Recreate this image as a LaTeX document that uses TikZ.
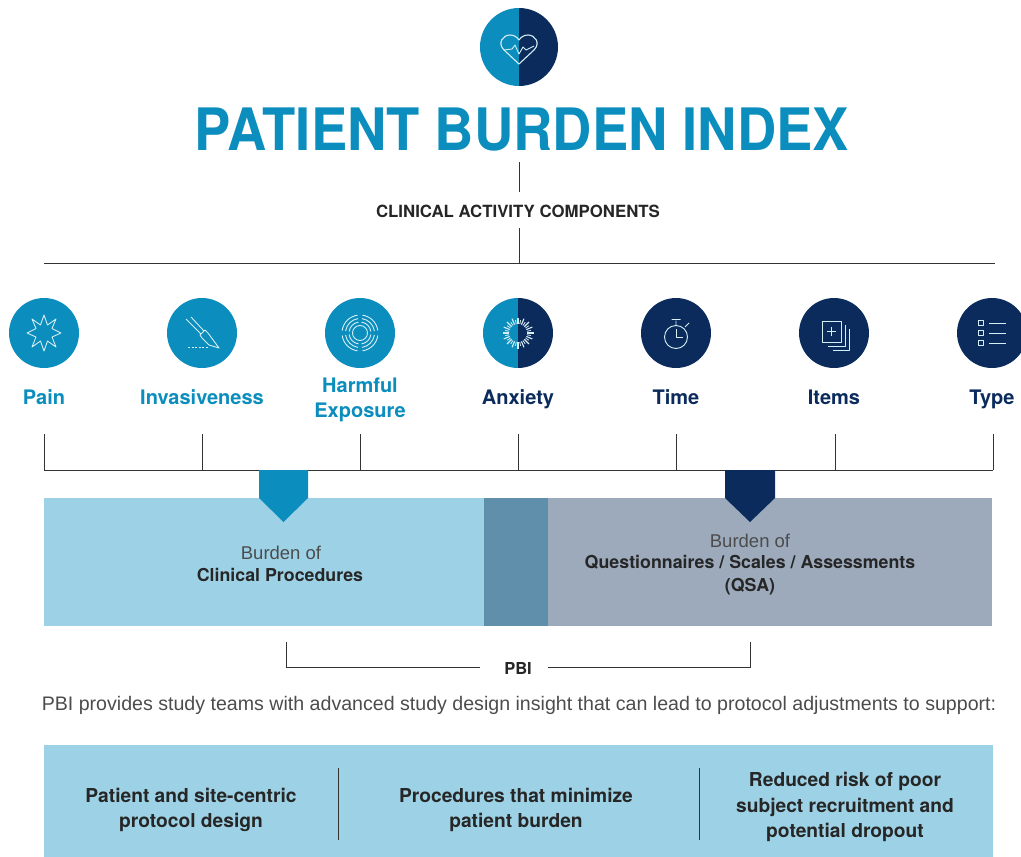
\documentclass[tikz,border=0pt]{standalone}
\usepackage{fontspec}
\setmainfont{TeX Gyre Heros}
\newfontfamily\titlefont[FakeStretch=0.93]{TeX Gyre Heros}
\newfontfamily\lightfont{Liberation Sans}
\usetikzlibrary{calc}
\definecolor{cyanB}{HTML}{0B8DBD}
\definecolor{navyB}{HTML}{0A2B5C}
\definecolor{lightB}{HTML}{9DD2E6}
\definecolor{midB}{HTML}{5F8FAB}
\definecolor{greyB}{HTML}{9CAABC}
\definecolor{lineB}{HTML}{333333}
\definecolor{iconB}{HTML}{D6EEF6}
\tikzset{
 rule/.style={draw=lineB,line width=0.8pt},
 disc/.style={circle,minimum size=70pt,inner sep=0pt,outer sep=0pt},
 lab/.style={font=\fontsize{20}{25}\selectfont\bfseries,align=center,inner sep=0pt,anchor=base},
 body/.style={font=\lightfont\fontsize{18.5}{22}\selectfont,text=black!70,align=center,inner sep=0pt},
 bodyb/.style={font=\fontsize{19.2}{25.5}\selectfont\bfseries,text=black!85,align=center,inner sep=0pt},
 barb/.style={font=\fontsize{17.8}{23}\selectfont\bfseries,text=black!85,align=center,inner sep=0pt},
 glyph/.style={draw=iconB,line width=0.9pt,line join=round},
}
\begin{document}
\begin{tikzpicture}[x=1pt,y=-1pt]
\useasboundingbox (0,0) rectangle (1021,857);
% top
\fill[cyanB] (519,8) arc[start angle=90,end angle=270,radius=39pt] -- cycle;
\fill[navyB] (519,8) arc[start angle=90,end angle=-90,radius=39pt] -- cycle;
\node[circle,minimum size=78pt,inner sep=0pt] (logo) at (519,47) {};
\draw[glyph,line width=1.1pt] (519,64) -- (504,50) .. controls (497,43) and (503,35) .. (510,35) .. controls (514,35) and (517,37) .. (519,40) .. controls (521,37) and (524,35) .. (528,35) .. controls (535,35) and (541,43) .. (534,50) -- cycle;
\draw[glyph] (504,50) -- (512,49) -- (515,45) -- (519,54) -- (523,47) -- (526,50) -- (534,46);
\node[font=\titlefont\fontsize{58.5}{60}\selectfont\bfseries,text=cyanB,inner sep=0pt] (title) at (522,129.5) {PATIENT BURDEN INDEX};
\node[font=\fontsize{16.8}{18}\selectfont\bfseries,text=black!85,inner sep=0pt] (cac) at (518,211) {CLINICAL ACTIVITY COMPONENTS};
\coordinate (t1) at (519,162);
\coordinate (t2) at (519,192);
\coordinate (t3) at (519,228);
\coordinate (t4) at (519,263);
\coordinate (hl) at (44,263);
\coordinate (hr) at (995,263);
\draw[rule] (t1) -- (t2);
\draw[rule] (t3) -- (t4);
\draw[rule] (hl) -- (hr);
% discs
\node[disc,fill=cyanB] (d1) at (44,333) {};
\node[disc,fill=cyanB] (d2) at (202,333) {};
\node[disc,fill=cyanB] (d3) at (360,333) {};
\fill[cyanB] (518,298) arc[start angle=90,end angle=270,radius=35pt] -- cycle;
\fill[navyB] (518,298) arc[start angle=90,end angle=-90,radius=35pt] -- cycle;
\node[disc] (d4) at (518,333) {};
\node[disc,fill=navyB] (d5) at (676,333) {};
\node[disc,fill=navyB] (d6) at (834,333) {};
\node[disc,fill=navyB] (d7) at (992,333) {};
% pain icon: star
\draw[glyph] (44,315) -- (47.5,325) -- (56,319) -- (52,328.5) -- (61,333) -- (52,337) -- (56,347) -- (47.5,341) -- (44,351) -- (40.5,341) -- (32,347) -- (36,337) -- (27,333) -- (36,328.5) -- (32,319) -- (40.5,325) -- cycle;
% scalpel
\draw[glyph] (186,319) -- (201,334) (191,317) -- (204,331);
\draw[glyph] (200,335) -- (205,330) -- (208,333) -- (219,348) -- (209,345) -- (202,338) -- cycle;
\draw[glyph,dash pattern=on 2pt off 1.5pt] (188,347) -- (208,347);
% exposure
\draw[glyph] (360,333) circle[radius=7.5pt];
\foreach \r in {11,14.5,18}{
 \foreach \a in {8,98,188,278}{
  \draw[glyph] ($(360,333)+(\a:\r pt)$) arc[start angle=\a,end angle=\a+74,radius=\r pt];
 }
}
% anxiety
\foreach \a in {0,22.5,...,337.5}{
 \draw[glyph,line width=1.1pt] ($(514,333)+(4,0)+(\a:9pt)$) -- ($(514,333)+(4,0)+(\a:15.5pt)$);
 \draw[glyph,line width=.8pt] ($(514,333)+(4,0)+(\a+11.25:9pt)$) -- ($(514,333)+(4,0)+(\a+11.25:13pt)$);
}
% timer
\draw[glyph] (676,337) circle[radius=11.5pt];
\draw[glyph] (676,329) -- (676,337.5) -- (683,337.5);
\draw[glyph] (676,325) -- (676,320.5) (671.5,319.5) -- (680.5,319.5) (685,327) -- (689,323);
% items
\draw[glyph] (822,321) rectangle (841,342);
\draw[glyph] (831.5,326.5) -- (831.5,336) (827,331) -- (836,331);
\draw[glyph] (845,325) -- (845,346) -- (828,346);
\draw[glyph] (849,329) -- (849,350) -- (833,350);
% type
\foreach \yy in {323,333,343}{
 \draw[glyph] (978.5,\yy-2.5) rectangle (983.5,\yy+2.5);
 \draw[glyph] (989,\yy) -- (1006,\yy);
}
% labels
\node[lab,text=cyanB] (l1) at (44,404) {Pain};
\node[lab,text=cyanB] (l2) at (202,404) {Invasiveness};
\node[lab,text=cyanB] (l3a) at (360,392) {Harmful};
\node[lab,text=cyanB] (l3b) at (360,417) {Exposure};
\node[lab,text=navyB] (l4) at (518,404) {Anxiety};
\node[lab,text=navyB] (l5) at (676,404) {Time};
\node[lab,text=navyB] (l6) at (834,404) {Items};
\node[lab,text=navyB] (l7) at (992,404) {Type};
% comb
\coordinate (c0) at (44,470);
\coordinate (c7) at (993,470);
\draw[rule] (c0) -- (c7);
\foreach \x in {44,202,360,518,676,835,993}{\draw[rule] (\x,434) -- (\x,470);}
% bar
\fill[lightB] (44,498) rectangle (484,626);
\fill[midB] (484,498) rectangle (548,626);
\fill[greyB] (548,498) rectangle (992,626);
\fill[cyanB] (259,470) -- (308,470) -- (308,498) -- (283.5,522) -- (259,498) -- cycle;
\fill[navyB] (725,470) -- (775,470) -- (775,498) -- (750,522) -- (725,498) -- cycle;
\node[body] (b1) at (281,553) {Burden of};
\node[barb] (b2) at (280,575) {Clinical Procedures};
\node[body] (b3) at (750,541) {Burden of};
\node[barb] (b4) at (750,575) {Questionnaires / Scales / Assessments\\(QSA)};
% PBI
\node[font=\fontsize{16.5}{18}\selectfont\bfseries,text=black!85,inner sep=0pt] (pbi) at (518,668) {PBI};
\coordinate (p1) at (286,642);
\coordinate (p2) at (750,642);
\coordinate (pl) at (480,667);
\coordinate (pr) at (548,667);
\draw[rule] (p1) |- (pl);
\draw[rule] (p2) |- (pr);
\node[font=\lightfont\fontsize{19.6}{22}\selectfont,text=black!70,inner sep=0pt] (sent) at (519,705) {PBI provides study teams with advanced study design insight that can lead to protocol adjustments to support:};
% band
\fill[lightB] (44,745) rectangle (993,857);
\draw[rule] (338,768) -- (338,840);
\draw[rule] (699,768) -- (699,840);
\node[bodyb] (o1) at (191,810) {Patient and site-centric\\protocol design};
\node[bodyb] (o2) at (516,810) {Procedures that minimize\\patient burden};
\node[bodyb] (o3) at (845,807) {Reduced risk of poor\\subject recruitment and\\potential dropout};
\end{tikzpicture}
\end{document}
